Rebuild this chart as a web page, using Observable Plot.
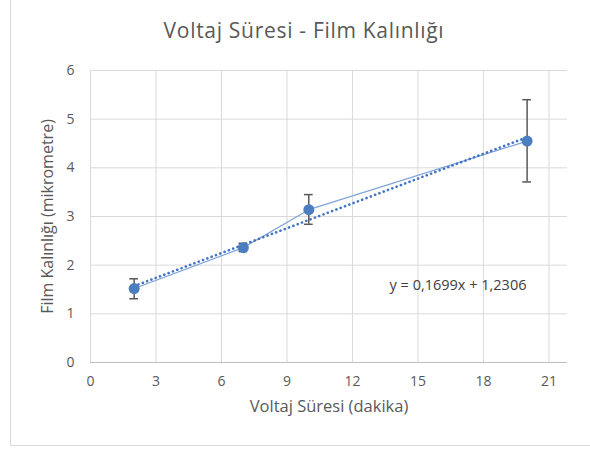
<!DOCTYPE html>
<html>
<head>
<meta charset="utf-8">
<script src="https://cdn.jsdelivr.net/npm/d3@7"></script>
<script src="https://cdn.jsdelivr.net/npm/@observablehq/plot@0.6"></script>
<style>
  body { margin: 0; background: #fff; }
  #wrap { position: relative; width: 590px; height: 450px; overflow: hidden; font-family: "Open Sans", Lato, sans-serif; }
  #frame { position: absolute; left: 10px; top: -2px; width: 600px; height: 448px; border-left: 1px solid #d9d9d9; border-bottom: 1px solid #d9d9d9; box-sizing: border-box; }
  #title { position: absolute; left: 0; top: 16px; width: 608px; text-align: center; font-size: 21px; letter-spacing: 0.7px; color: #595959; }
  #chart { position: absolute; left: 0; top: 55px; }
</style>
</head>
<body>
<div id="wrap">
  <div id="frame"></div>
  <div id="title">Voltaj Süresi - Film Kalınlığı</div>
  <div id="chart"></div>
</div>
<script>
const times = [2, 7, 10, 20];
const thickness = [1.52, 2.36, 3.14, 4.55];
const errLow = [1.31, 2.28, 2.84, 3.71];
const errHigh = [1.72, 2.45, 3.45, 5.40];
const xTicks = [0, 3, 6, 9, 12, 15, 18, 21];
const yTicks = [0, 1, 2, 3, 4, 5, 6];
const trendSlope = 0.1699;
const trendIntercept = 1.2306;
const trendX = [2, 20];
const equationLabel = "y = 0,1699x + 1,2306";
const xLabel = "Voltaj Süresi (dakika)";
const yLabel = "Film Kalınlığı (mikrometre)";

const pts = times.map((t, i) => ({x: t, y: thickness[i], lo: errLow[i], hi: errHigh[i]}));
const trend = trendX.map(x => ({x, y: trendSlope * x + trendIntercept}));
const capHalf = 0.2;

const plot = Plot.plot({
  width: 590,
  height: 395,
  marginLeft: 90,
  marginRight: 23,
  marginTop: 15,
  marginBottom: 88,
  style: {fontFamily: "'Open Sans', Lato, sans-serif", color: "#595959", background: "transparent", overflow: "visible"},
  x: {type: "linear", domain: [0, 21.85]},
  y: {type: "linear", domain: [0, 6]},
  marks: [
    Plot.gridX(xTicks, {stroke: "#d9d9d9", strokeOpacity: 1}),
    Plot.gridY(yTicks, {stroke: "#d9d9d9", strokeOpacity: 1}),
    Plot.ruleY([0], {stroke: "#bfbfbf"}),
    Plot.axisX(xTicks, {tickSize: 0, tickPadding: 14, fontSize: 14, tickFormat: d => String(d), label: null, fill: "#595959"}),
    Plot.axisY(yTicks, {tickSize: 0, tickPadding: 16, fontSize: 14, tickFormat: d => String(d), label: null, fill: "#595959"}),
    Plot.line(pts, {x: "x", y: "y", stroke: "#7ea3d8", strokeWidth: 1.2}),
    Plot.line(trend, {x: "x", y: "y", stroke: "#4472c4", strokeWidth: 2.6, strokeDasharray: "0.1 4.5", strokeLinecap: "round"}),
    Plot.ruleX(pts, {x: "x", y1: "lo", y2: "hi", stroke: "#595959", strokeWidth: 1.5}),
    Plot.ruleY(pts, {y: "lo", x1: d => d.x - capHalf, x2: d => d.x + capHalf, stroke: "#595959", strokeWidth: 1.5}),
    Plot.ruleY(pts, {y: "hi", x1: d => d.x - capHalf, x2: d => d.x + capHalf, stroke: "#595959", strokeWidth: 1.5}),
    Plot.dot(pts, {x: "x", y: "y", r: 5.5, fill: "#4a7ebf", stroke: "none"}),
    Plot.text([equationLabel], {x: 13.7, y: 1.58, text: d => d, textAnchor: "start", fontSize: 14.5, fill: "#404040", style: "letter-spacing:0.3px"}),
    Plot.text([xLabel], {frameAnchor: "bottom", dy: 49, text: d => d, fontSize: 16.5, fill: "#595959"}),
    Plot.text([yLabel], {frameAnchor: "left", dx: -43, rotate: -90, textAnchor: "middle", text: d => d, fontSize: 16, fill: "#595959"})
  ]
});
document.getElementById("chart").appendChild(plot);
</script>
</body>
</html>
